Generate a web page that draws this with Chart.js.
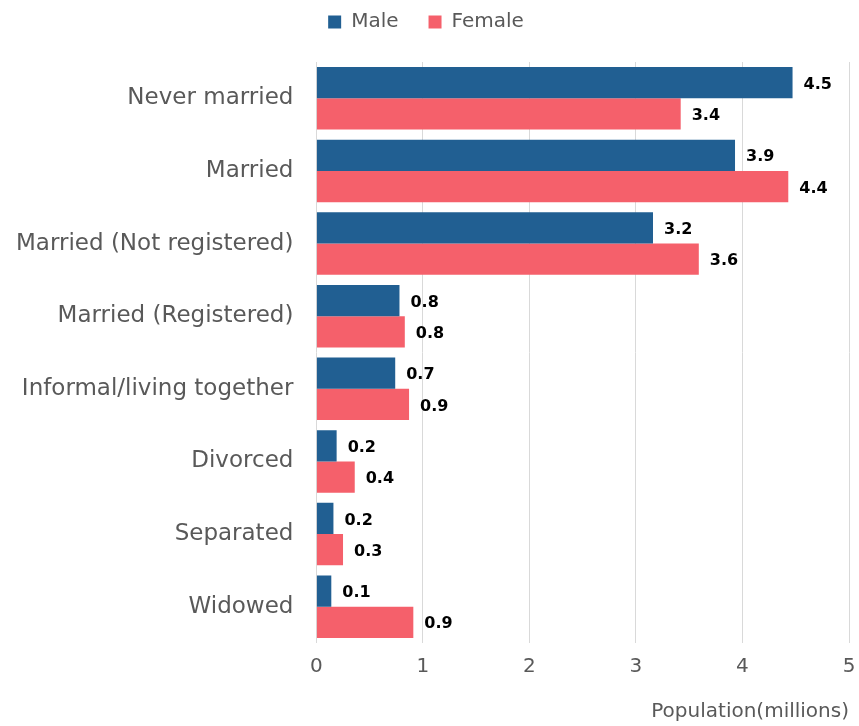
<!DOCTYPE html>
<html>
<head>
<meta charset="utf-8">
<script src="https://cdn.jsdelivr.net/npm/chart.js@4"></script>
<style>
  html, body { margin: 0; padding: 0; background: #fff; }
  #wrap { width: 859px; height: 726px; }
</style>
</head>
<body>
<div id="wrap"><canvas id="chart"></canvas></div>
<script>
const categories = [
  "Never married",
  "Married",
  "Married (Not registered)",
  "Married (Registered)",
  "Informal/living together",
  "Divorced",
  "Separated",
  "Widowed"
];
const maleValues = [4.47, 3.93, 3.16, 0.78, 0.74, 0.19, 0.16, 0.14];
const femaleValues = [3.42, 4.43, 3.59, 0.83, 0.87, 0.36, 0.25, 0.91];
const xTicks = [0, 1, 2, 3, 4, 5];

const FONT = "'DejaVu Sans', sans-serif";
const GREY = "#595959";

// value labels at bar ends
const barLabels = {
  id: "barLabels",
  afterDatasetsDraw(chart) {
    const ctx = chart.ctx;
    ctx.save();
    ctx.font = "bold 16px " + FONT;
    ctx.fillStyle = "#000";
    ctx.textBaseline = "middle";
    ctx.textAlign = "left";
    chart.data.datasets.forEach((ds, di) => {
      chart.getDatasetMeta(di).data.forEach((bar, j) => {
        ctx.fillText(ds.data[j].toFixed(1), bar.x + 11, bar.y + 2);
      });
    });
    ctx.restore();
  }
};

// fixed legend block height so the plot starts lower
const legendGap = {
  id: "legendGap",
  beforeInit(chart) {
    const fit = chart.legend.fit;
    chart.legend.fit = function () {
      fit.bind(chart.legend)();
      this.height = 80;
    };
  }
};

new Chart(document.getElementById("chart"), {
  type: "bar",
  data: {
    labels: categories,
    datasets: [
      { label: "Male", data: maleValues, backgroundColor: "#215f92" },
      { label: "Female", data: femaleValues, backgroundColor: "#f5606b" }
    ]
  },
  options: {
    indexAxis: "y",
    responsive: true,
    maintainAspectRatio: false,
    animation: false,
    layout: { padding: { left: -7, right: 0, top: -18, bottom: 2 } },
    datasets: { bar: { categoryPercentage: 0.86, barPercentage: 1 } },
    plugins: {
      legend: {
        position: "top",
        labels: {
          font: { family: FONT, size: 20 },
          color: GREY,
          boxWidth: 13,
          boxHeight: 13,
          padding: 30
        }
      },
      tooltip: { enabled: false }
    },
    scales: {
      x: {
        min: 0,
        max: 5,
        afterBuildTicks(axis) { axis.ticks = xTicks.map(v => ({ value: v })); },
        afterFit(axis) { axis.paddingRight = 10; },
        grid: { color: "#d9d9d9", drawTicks: false },
        border: { display: false },
        ticks: { font: { family: FONT, size: 20 }, color: GREY, padding: 12 },
        title: {
          display: true,
          text: "Population(millions)",
          align: "end",
          font: { family: FONT, size: 20 },
          color: GREY,
          padding: { top: 9, bottom: 0 }
        }
      },
      y: {
        grid: { display: false, drawTicks: false },
        border: { display: false },
        ticks: { font: { family: FONT, size: 23 }, color: GREY, padding: 23 }
      }
    }
  },
  plugins: [barLabels, legendGap]
});
</script>
</body>
</html>
